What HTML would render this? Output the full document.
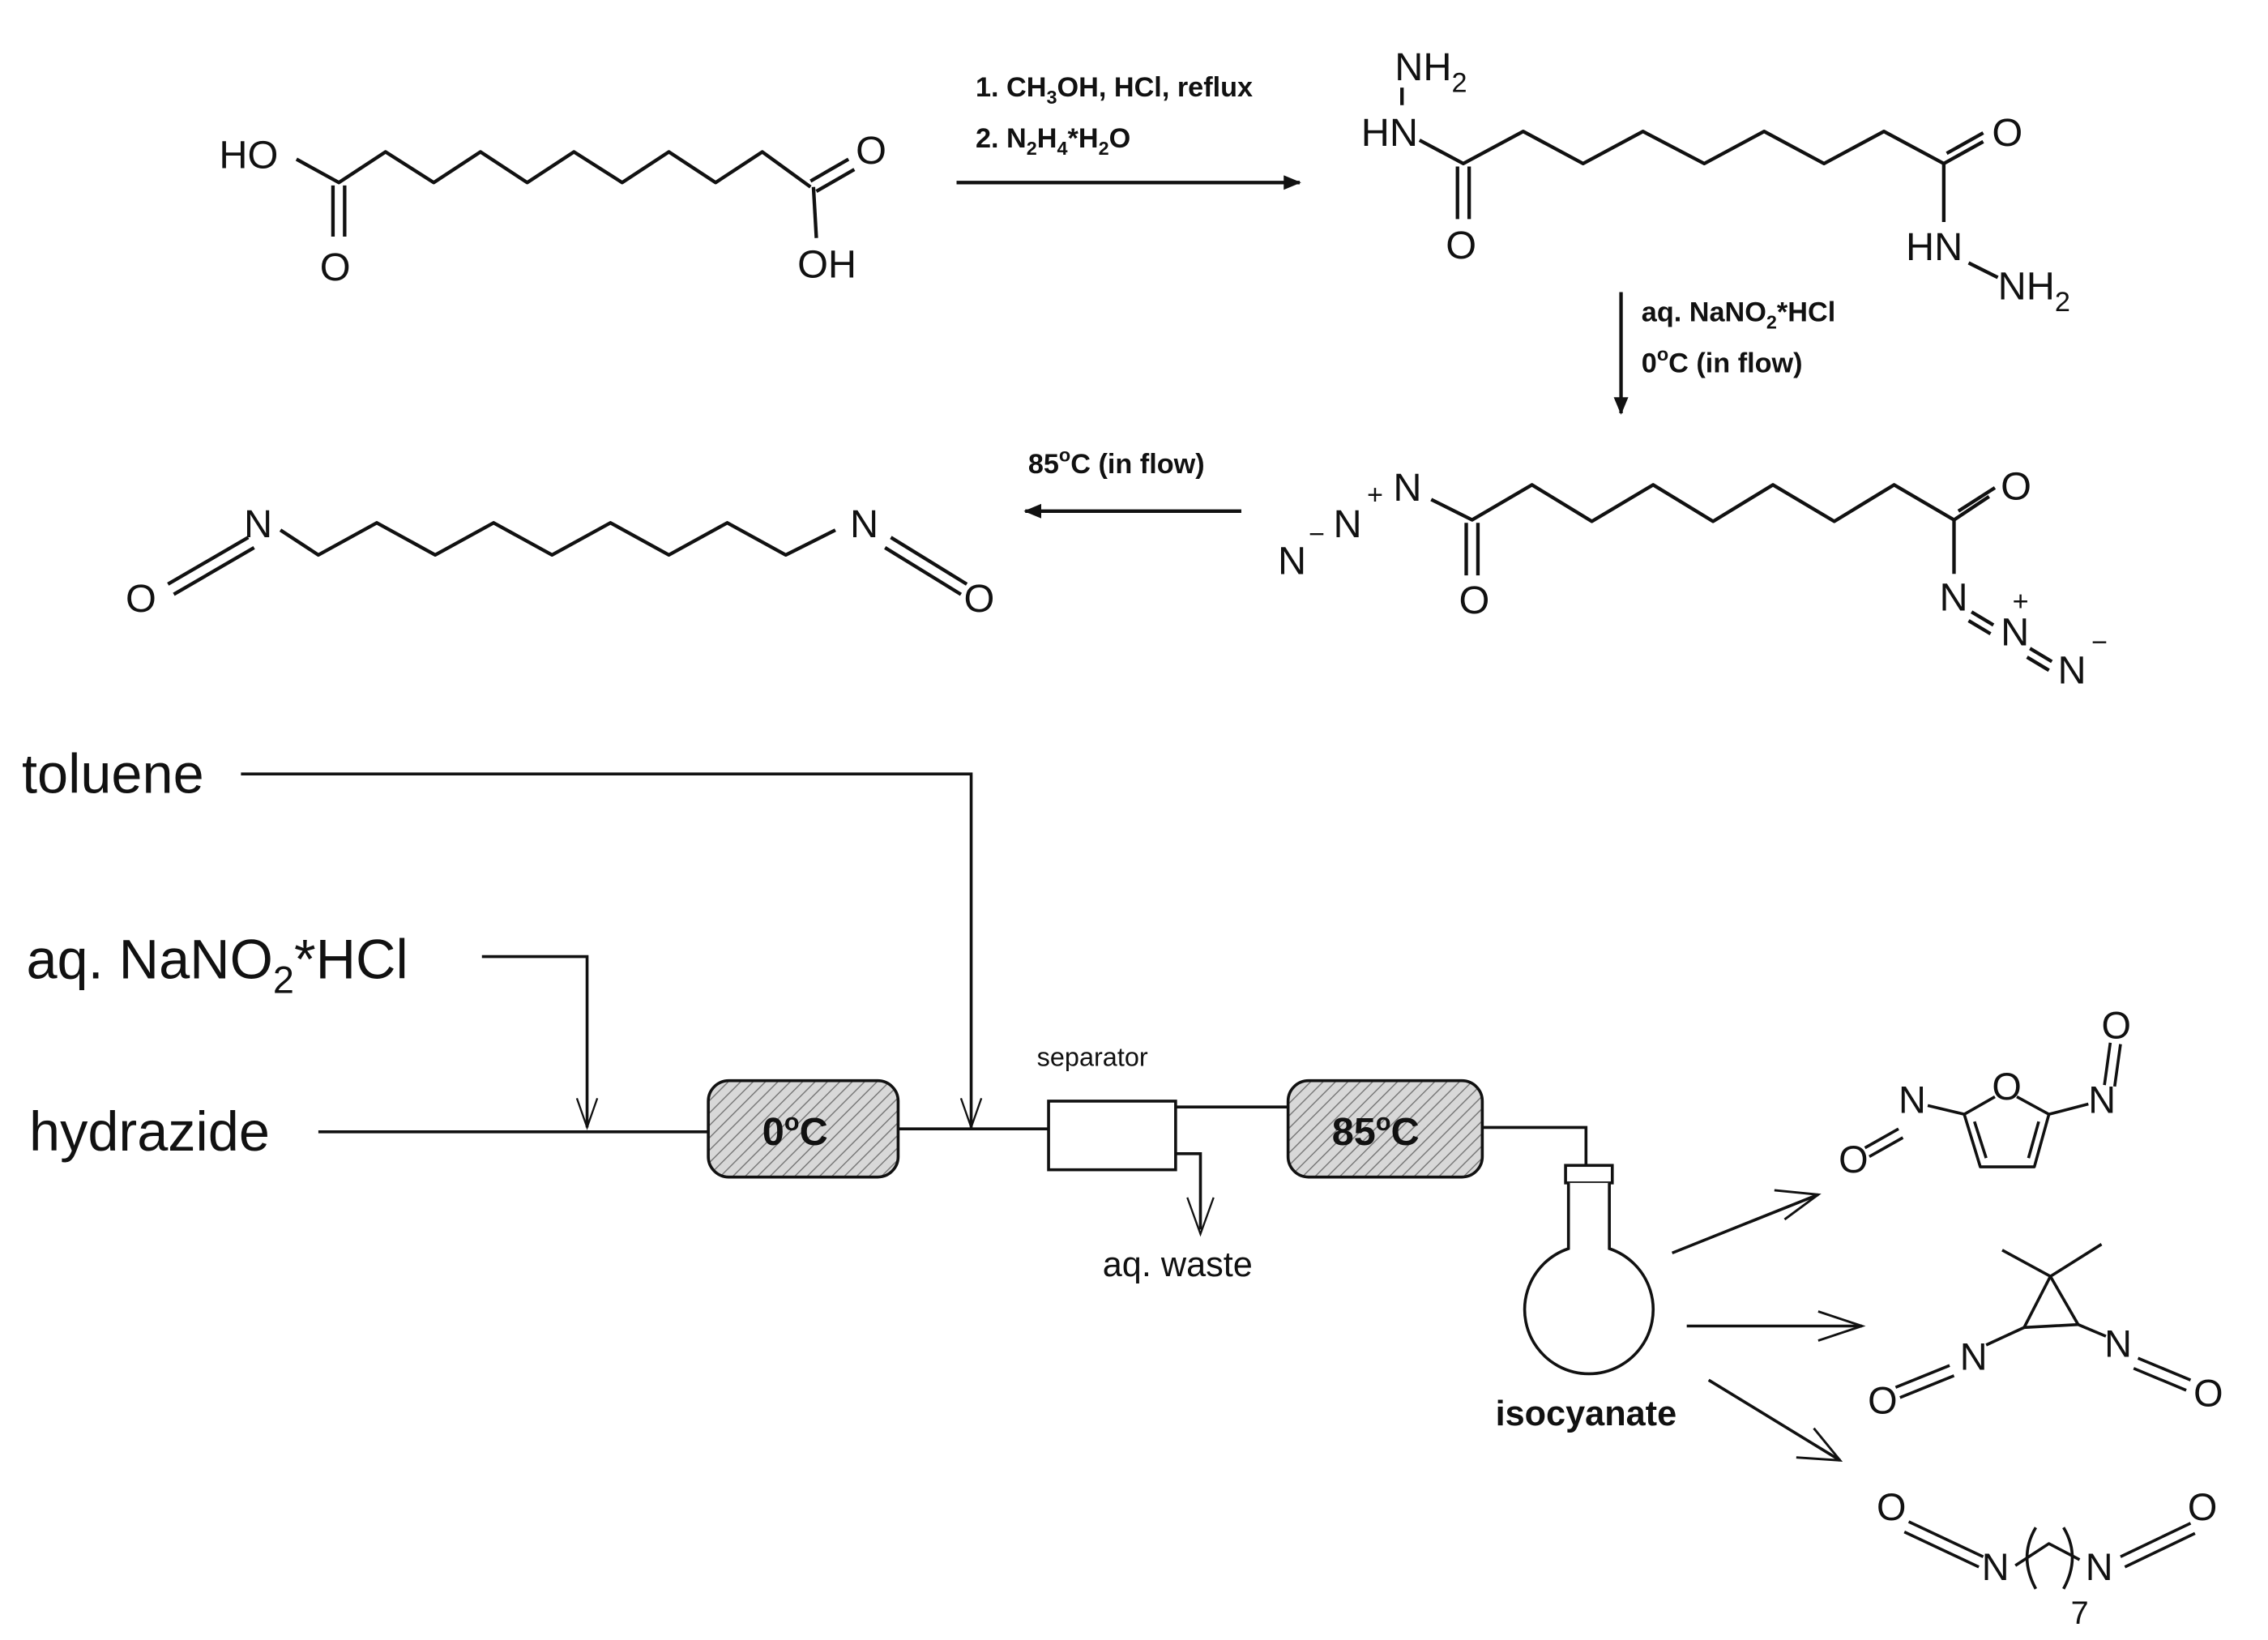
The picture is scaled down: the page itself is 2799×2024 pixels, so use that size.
<!DOCTYPE html>
<html><head><meta charset="utf-8"><style>
html,body{margin:0;padding:0;background:#fff;}
svg{display:block;}
text{font-family:"Liberation Sans",Arial,sans-serif;fill:#111;}
</style></head><body>
<svg width="2799" height="2024" viewBox="0 0 1553 1123" xmlns="http://www.w3.org/2000/svg">
<defs>
<pattern id="h" width="6" height="6" patternUnits="userSpaceOnUse" patternTransform="rotate(45)">
<rect width="6" height="6" fill="#d8d8d8"/><line x1="0" y1="0" x2="0" y2="6" stroke="#777" stroke-width="1.6"/>
</pattern>
<marker id="fa" markerWidth="12" markerHeight="10" refX="11" refY="5" orient="auto" markerUnits="userSpaceOnUse"><path d="M0,0 L12,5 L0,10 z" fill="#111"/></marker>
</defs>
<g stroke="#111" stroke-width="2.4" fill="none" stroke-linejoin="round">
<!-- diacid -->
<polyline points="203,109 232,125 264,104 297,125 329,104 361,125 393,104 426,125 458,104 490,125 522,104 555,128"/>
<line x1="228" y1="127" x2="228" y2="162"/><line x1="236" y1="127" x2="236" y2="162"/>
<line x1="555" y1="124" x2="581" y2="109"/><line x1="559" y1="131" x2="585" y2="116"/>
<line x1="557" y1="128" x2="559" y2="163"/>
<!-- arrow 1 -->
<line x1="655" y1="125" x2="890" y2="125" marker-end="url(#fa)"/>
<!-- dihydrazide -->
<line x1="960" y1="60" x2="960" y2="72"/>
<polyline points="972,96 1002,112 1043,90 1084,112 1125,90 1167,112 1208,90 1249,112 1290,90 1331,112 1358,97"/>
<line x1="1333" y1="105" x2="1358" y2="91"/>
<line x1="998" y1="114" x2="998" y2="150"/><line x1="1006" y1="114" x2="1006" y2="150"/>
<line x1="1331" y1="112" x2="1331" y2="152"/>
<line x1="1348" y1="180" x2="1368" y2="190"/>
<!-- vertical arrow -->
<line x1="1110" y1="200" x2="1110" y2="283" marker-end="url(#fa)"/>
<!-- diazide -->
<polyline points="980,342 1008,356 1049,332 1090,357 1132,332 1173,357 1214,332 1256,357 1297,332 1338,356 1362,340"/>
<line x1="1341" y1="350" x2="1366" y2="334"/>
<line x1="1004" y1="358" x2="1004" y2="394"/><line x1="1012" y1="358" x2="1012" y2="394"/>
<line x1="1338" y1="356" x2="1338" y2="393"/>
<line x1="1350" y1="419" x2="1365" y2="428"/><line x1="1348" y1="425" x2="1363" y2="434"/>
<line x1="1390" y1="444" x2="1405" y2="453"/><line x1="1388" y1="450" x2="1403" y2="459"/>
<!-- arrow left -->
<line x1="850" y1="350" x2="702" y2="350" marker-end="url(#fa)"/>
<!-- diisocyanate -->
<line x1="115" y1="400" x2="170" y2="368"/><line x1="119" y1="407" x2="174" y2="375"/>
<polyline points="192,363 218,380 258,358 298,380 338,358 378,380 418,358 458,380 498,358 538,380 572,363"/>
<line x1="610" y1="368" x2="662" y2="400"/><line x1="606" y1="375" x2="658" y2="407"/>
</g>
<g font-size="27">
<text x="150" y="115">HO</text>
<text x="219" y="192">O</text>
<text x="586" y="112">O</text>
<text x="546" y="190">OH</text>
<text x="955" y="55">NH<tspan font-size="19" dy="8">2</tspan></text>
<text x="932" y="100">HN</text>
<text x="990" y="177">O</text>
<text x="1364" y="100">O</text>
<text x="1305" y="178">HN</text>
<text x="1368" y="205">NH<tspan font-size="19" dy="8">2</tspan></text>
<text x="875" y="393">N</text><text x="896" y="372" font-size="19">−</text><text x="913" y="368">N</text><text x="936" y="345" font-size="19">+</text><text x="954" y="343">N</text>
<text x="999" y="420">O</text>
<text x="1370" y="342">O</text>
<text x="1328" y="418">N</text><text x="1370" y="442">N</text><text x="1378" y="418" font-size="19">+</text><text x="1409" y="468">N</text><text x="1432" y="446" font-size="19">−</text>
<text x="86" y="419">O</text>
<text x="167" y="368">N</text>
<text x="582" y="368">N</text>
<text x="660" y="419">O</text>
</g>
<g font-size="19" font-weight="bold">
<text x="668" y="66">1. CH<tspan font-size="13" dy="5">3</tspan><tspan dy="-5">OH, HCl, reflux</tspan></text>
<text x="668" y="101">2. N<tspan font-size="13" dy="5">2</tspan><tspan dy="-5">H</tspan><tspan font-size="13" dy="5">4</tspan><tspan dy="-5">*H</tspan><tspan font-size="13" dy="5">2</tspan><tspan dy="-5">O</tspan></text>
<text x="1124" y="220">aq. NaNO<tspan font-size="13" dy="5">2</tspan><tspan dy="-5">*HCl</tspan></text>
<text x="1124" y="255">0<tspan font-size="13" dy="-8">o</tspan><tspan dy="8">C (in flow)</tspan></text>
<text x="704" y="324">85<tspan font-size="13" dy="-8">o</tspan><tspan dy="8">C (in flow)</tspan></text>
</g>
<!-- flow scheme -->
<g stroke="#111" stroke-width="2" fill="none">
<polyline points="165,530 665,530 665,772"/>
<polyline points="658,752 665,772 672,752" stroke-width="1.3"/>
<polyline points="330,655 402,655 402,772"/>
<polyline points="395,752 402,772 409,752" stroke-width="1.3"/>
<line x1="218" y1="775" x2="485" y2="775"/>
<rect x="485" y="740" width="130" height="66" rx="14" fill="url(#h)"/>
<line x1="615" y1="773" x2="718" y2="773"/>
<rect x="718" y="754" width="87" height="47" fill="#fff"/>
<line x1="805" y1="758" x2="882" y2="758"/>
<polyline points="805,790 822,790 822,842"/>
<polyline points="813,820 822,845 831,820" stroke-width="1.3"/>
<rect x="882" y="740" width="133" height="66" rx="14" fill="url(#h)"/>
<polyline points="1015,772 1086,772 1086,798"/>
<rect x="1072" y="798" width="32" height="12" fill="#fff"/>
<path d="M1074,810 L1074,855 A44,44 0 1,0 1102,855 L1102,810" fill="#fff"/>
<line x1="1145" y1="858" x2="1245" y2="818"/><polyline points="1215,815 1245,818 1222,835" stroke-width="1.6"/>
<line x1="1155" y1="908" x2="1275" y2="908"/><polyline points="1245,898 1275,908 1245,918" stroke-width="1.6"/>
<line x1="1170" y1="945" x2="1260" y2="1000"/><polyline points="1230,998 1260,1000 1242,978" stroke-width="1.6"/>
</g>
<text x="15" y="543" font-size="38">toluene</text>
<text x="18" y="670" font-size="38">aq. NaNO<tspan font-size="26" dy="10">2</tspan><tspan dy="-10">*HCl</tspan></text>
<text x="20" y="788" font-size="38">hydrazide</text>
<text x="522" y="784" font-size="27" font-weight="bold">0<tspan font-size="17" dy="-10">o</tspan><tspan dy="10">C</tspan></text>
<text x="912" y="784" font-size="27" font-weight="bold">85<tspan font-size="17" dy="-10">o</tspan><tspan dy="10">C</tspan></text>
<text x="710" y="730" font-size="18">separator</text>
<text x="755" y="874" font-size="24">aq. waste</text>
<text x="1024" y="976" font-size="24" font-weight="bold">isocyanate</text>
<!-- products -->
<g stroke="#111" stroke-width="2" fill="none" stroke-linejoin="round">
<!-- furan -->
<line x1="1277" y1="786" x2="1300" y2="773"/><line x1="1280" y1="792" x2="1303" y2="779"/>
<line x1="1320" y1="757" x2="1345" y2="763"/>
<polyline points="1366,751 1345,763 1356,799 1393,799 1403,763 1381,751"/>
<line x1="1352" y1="768" x2="1360" y2="793"/><line x1="1396" y1="768" x2="1389" y2="793"/>
<line x1="1403" y1="763" x2="1430" y2="756"/>
<line x1="1441" y1="743" x2="1445" y2="714"/><line x1="1448" y1="744" x2="1452" y2="715"/>
<!-- cyclopropane -->
<line x1="1371" y1="856" x2="1404" y2="874"/><line x1="1439" y1="852" x2="1404" y2="874"/>
<polygon points="1404,874 1386,909 1423,907"/>
<line x1="1386" y1="909" x2="1360" y2="921"/>
<line x1="1423" y1="907" x2="1442" y2="915"/>
<line x1="1298" y1="950" x2="1335" y2="935"/><line x1="1301" y1="957" x2="1338" y2="942"/>
<line x1="1464" y1="930" x2="1500" y2="945"/><line x1="1461" y1="937" x2="1497" y2="952"/>
<!-- chain -->
<line x1="1307" y1="1042" x2="1358" y2="1066"/><line x1="1304" y1="1049" x2="1355" y2="1073"/>
<polyline points="1380,1072 1403,1057 1424,1068"/>
<path d="M1394,1046 Q1382,1066 1394,1088"/><path d="M1413,1046 Q1425,1066 1413,1088"/>
<line x1="1452" y1="1066" x2="1500" y2="1043"/><line x1="1455" y1="1073" x2="1503" y2="1050"/>
</g>
<g font-size="26">
<text x="1259" y="803">O</text><text x="1300" y="762">N</text>
<text x="1364" y="753">O</text>
<text x="1430" y="762">N</text><text x="1439" y="711">O</text>
<text x="1279" y="968">O</text><text x="1342" y="938">N</text>
<text x="1441" y="929">N</text><text x="1502" y="963">O</text>
<text x="1285" y="1041">O</text><text x="1357" y="1082">N</text>
<text x="1428" y="1082">N</text><text x="1498" y="1041">O</text>
<text x="1418" y="1112" font-size="22">7</text>
</g>
</svg>
</body></html>
